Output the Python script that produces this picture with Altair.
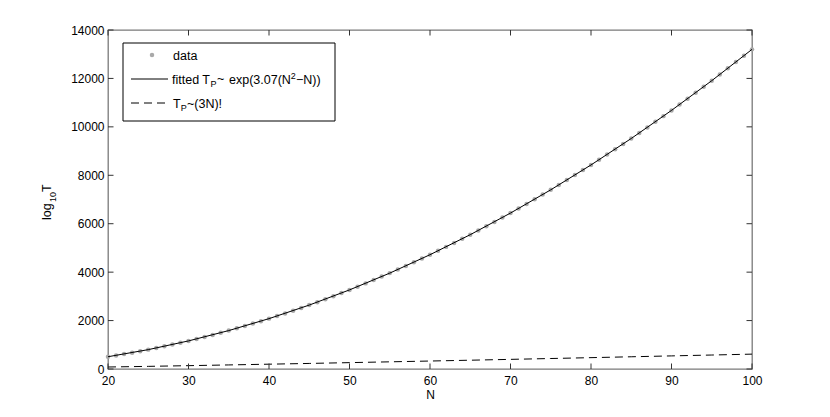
import altair as alt
import pandas as pd

FONT = "Liberation Sans"

# ---- data ----
N_data = list(range(20, 101))
T_data = [507, 560, 616, 675, 736, 800, 867, 936, 1008, 1083,
          1160, 1240, 1323, 1408, 1496, 1587, 1680, 1776, 1875, 1976,
          2080, 2187, 2296, 2408, 2523, 2640, 2760, 2883, 3008, 3136,
          3267, 3400, 3536, 3675, 3816, 3960, 4107, 4256, 4408, 4563,
          4720, 4880, 5043, 5208, 5376, 5547, 5720, 5896, 6075, 6256,
          6440, 6627, 6816, 7008, 7203, 7400, 7600, 7803, 8008, 8216,
          8427, 8640, 8856, 9075, 9296, 9520, 9747, 9976, 10208, 10443,
          10680, 10920, 11163, 11408, 11656, 11907, 12160, 12416, 12675, 12936,
          13200]

N_curve = [20, 25, 30, 35, 40, 45, 50, 55, 60, 65, 70, 75, 80, 85, 90, 95, 100]
T_fit = [507, 800, 1160, 1587, 2080, 2640, 3267, 3960, 4720, 5547,
         6440, 7400, 8427, 9520, 10680, 11907, 13200]
T_fact = [82, 109, 138, 168, 199, 230, 263, 296, 329, 363,
          398, 433, 469, 505, 541, 577, 614]

x_ticks = [20, 30, 40, 50, 60, 70, 80, 90, 100]
y_ticks = [0, 2000, 4000, 6000, 8000, 10000, 12000, 14000]

W, H = 644, 339

df_data = pd.DataFrame({"N": N_data, "v": T_data})
df_fit = pd.DataFrame({"N": N_curve, "v": T_fit})
df_fact = pd.DataFrame({"N": N_curve, "v": T_fact})
df_xt = pd.DataFrame({"N": x_ticks})
df_yt = pd.DataFrame({"v": y_ticks})

xs = alt.Scale(domain=[20, 100], nice=False, zero=False)
ys = alt.Scale(domain=[0, 14000], nice=False, zero=False)

x_axis = alt.Axis(values=x_ticks, format="d", labelPadding=6, labelFlush=False,
                  title="N", titlePadding=3)
y_axis = alt.Axis(values=y_ticks, format="d", labelPadding=4, title=None)

X = alt.X("N:Q", scale=xs, axis=x_axis)
Y = alt.Y("v:Q", scale=ys, axis=y_axis)

PT_COLOR = "#a9a9a9"
PT_SIZE = 20
DASH = [8, 5]

pts = alt.Chart(df_data).mark_point(filled=True, size=PT_SIZE, color=PT_COLOR, opacity=1).encode(x=X, y=Y)
fit = alt.Chart(df_fit).mark_line(color="black", strokeWidth=1).encode(x=X, y=Y)
fact = alt.Chart(df_fact).mark_line(color="black", strokeWidth=1, strokeDash=DASH).encode(x=X, y=Y)

TL = 5.5
tick_style = dict(color="#333333", strokeWidth=1)
xt_bot = alt.Chart(df_xt).mark_rule(**tick_style).encode(x=X, y=alt.value(H), y2=alt.value(H - TL))
xt_top = alt.Chart(df_xt).mark_rule(**tick_style).encode(x=X, y=alt.value(0), y2=alt.value(TL))
yt_left = alt.Chart(df_yt).mark_rule(**tick_style).encode(y=Y, x=alt.value(0), x2=alt.value(TL))
yt_right = alt.Chart(df_yt).mark_rule(**tick_style).encode(y=Y, x=alt.value(W), x2=alt.value(W - TL))

one = alt.Data(values=[{"a": 1}])


def txt(s, x, y, size=12, angle=0):
    return alt.Chart(one).mark_text(text=s, font=FONT, fontSize=size, align="left",
                                    baseline="alphabetic", angle=angle, color="black"
                                    ).encode(x=alt.value(x), y=alt.value(y))


# legend box
leg_box = alt.Chart(one).mark_rect(fill="white", stroke="black", strokeWidth=1).encode(
    x=alt.value(15), x2=alt.value(227), y=alt.value(13), y2=alt.value(91))
leg_dot = alt.Chart(one).mark_point(filled=True, size=PT_SIZE, color=PT_COLOR, opacity=1).encode(
    x=alt.value(44), y=alt.value(25))
leg_line = alt.Chart(one).mark_rule(color="black", strokeWidth=1).encode(
    x=alt.value(23), x2=alt.value(60), y=alt.value(49))
leg_dash = alt.Chart(one).mark_rule(color="black", strokeWidth=1, strokeDash=DASH).encode(
    x=alt.value(23), x2=alt.value(60), y=alt.value(73))

FS = 12.5
SS = 9
b1, b2, b3 = 29.5, 53.5, 77.5
legend_texts = [
    txt("data", 65, b1, FS),
    txt("fitted T", 64, b2, FS),
    txt("P", 102.5, b2 + 3, SS),
    txt("~", 109, b2 - 1, FS),
    txt("exp(3.07(N", 121, b2, FS),
    txt("2", 182.8, b2 - 5, SS),
    txt("\u2212N))", 188, b2, FS),
    txt("T", 65, b3, FS),
    txt("P", 72.8, b3 + 3, SS),
    txt("~(3N)!", 79, b3, FS),
]

# y title  log10 T (rotated)
ytitle = [
    txt("log", -57, 190, 12.5, 270),
    txt("10", -52, 172, 9, 270),
    txt("T", -57, 162, 12.5, 270),
]

layers = [pts, fit, fact, xt_bot, xt_top, yt_left, yt_right,
          leg_box, leg_dot, leg_line, leg_dash] + legend_texts + ytitle

chart = alt.layer(*layers).properties(
    width=W, height=H,
    autosize=alt.AutoSizeParams(type="none"),
    padding={"left": 100, "top": 22, "right": 70, "bottom": 40},
    background="white",
).configure_view(
    stroke="#7a7a7a", strokeWidth=1.3
).configure_axis(
    domain=False, ticks=False, tickSize=0, grid=False,
    labelFont=FONT, labelFontSize=12, labelColor="black",
    titleFont=FONT, titleFontSize=12, titleFontWeight="normal", titleColor="black",
)

chart.save("out.html", embed_options={"renderer": "svg", "actions": False})
